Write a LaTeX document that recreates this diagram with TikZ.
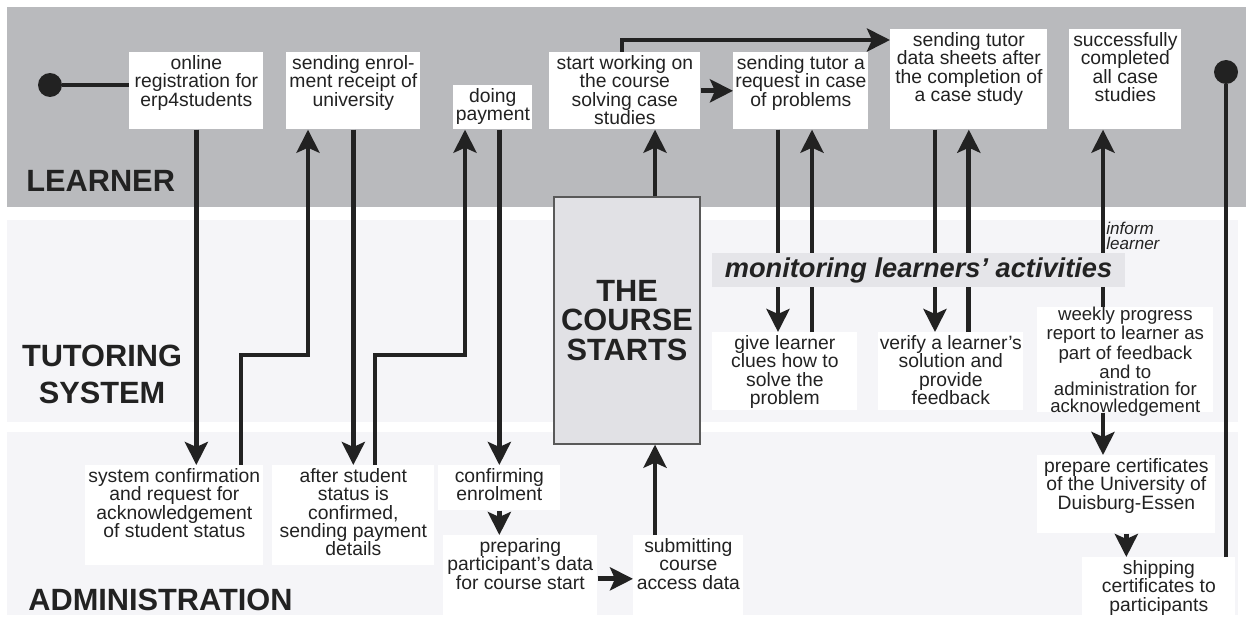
\documentclass[tikz,border=0pt]{standalone}
\usepackage{fontspec}
\setmainfont{Liberation Sans}
\usetikzlibrary{arrows.meta}

\definecolor{learnergray}{RGB}{185,186,189}
\definecolor{lanegray}{RGB}{245,245,248}
\definecolor{coursegray}{RGB}{225,225,229}
\definecolor{bandgray}{RGB}{229,229,233}
\definecolor{ink}{RGB}{34,34,34}

% text set at the top of a fixed white box
\newcommand{\boxtext}[4][2pt]{\parbox[t][#3][t]{#2}{\centering\vspace*{#1}#4}}

\tikzset{
	task/.style={fill=white, inner sep=0pt, anchor=north west, text=ink, font=\fontsize{11}{10.3}\selectfont},
	lanelabel/.style={inner sep=0pt, text=ink, align=center, font=\fontsize{17.5}{21}\selectfont\bfseries},
	dot/.style={circle, fill=ink, inner sep=0pt, minimum size=0.48cm},
	link/.style={line width=2.7pt, draw=ink},
	flow/.style={link, -{Stealth[length=0.46cm, width=0.46cm, inset=0.1cm]}}
}

\begin{document}
\begin{tikzpicture}[x=0.02cm, y=-0.02cm]
		\useasboundingbox (0,0) rectangle (1246,628);
		\fill[white] (0,0) rectangle (1246,628);
		
		% swim lanes
		\fill[learnergray] (7,7) rectangle (1246,207);
		\fill[lanegray] (7,220) rectangle (1238,422);
		\fill[lanegray] (7,432) rectangle (1238,615);
		
		\node (learner) at (26,181) [lanelabel, anchor=west] {LEARNER};
		\node (tutoring) at (102,374) [lanelabel] {TUTORING\\SYSTEM};
		\node (admin) at (28,600) [lanelabel, anchor=west] {ADMINISTRATION};
		
		% learner
		\node (start) at (50,85) [dot] {};
		\node (stop) at (1226,72) [dot] {};
		\node (reg) at (129,52) [task] {\boxtext{2.68cm}{1.54cm}{online\\registration for\\erp4students}};
		\node (enrol) at (286,52) [task] {\boxtext{2.68cm}{1.54cm}{sending enrol-\\ment receipt of\\university}};
		\node (pay) at (453,85) [task] {\boxtext{1.58cm}{0.88cm}{doing\\payment}};
		\node (work) at (549,52) [task] {\boxtext{3.02cm}{1.54cm}{start working on\\the course\\solving case\\studies}};
		\node (req) at (733,52) [task] {\boxtext{2.70cm}{1.54cm}{sending tutor a\\request in case\\of problems}};
		\node (sheets) at (890,29) [task] {\boxtext{3.14cm}{2.0cm}{sending tutor\\data sheets after\\the completion of\\a case study}};
		\node (done) at (1069,29) [task] {\boxtext{2.24cm}{2.0cm}{successfully\\completed\\all case\\studies}};
		
		% tutoring system
		\node (give) at (712,332) [task] {\boxtext{2.9cm}{1.56cm}{give learner\\clues how to\\solve the\\problem}};
		\node (verify) at (878,332) [task] {\boxtext{2.9cm}{1.56cm}{verify a learner’s\\solution and\\provide\\feedback}};
		\node (weekly) at (1037,307) [task, font=\fontsize{10.6}{9.8}\selectfont] {\boxtext[0pt]{3.52cm}{2.1cm}{weekly progress\\report to learner as\\part of feedback\\and to\\administration for\\acknowledgement}};
		
		% administration
		\node (sysconf) at (85,465) [task] {\boxtext{3.56cm}{2.0cm}{system confirmation\\and request for\\acknowledgement\\of student status}};
		\node (after) at (272,465) [task] {\boxtext{3.24cm}{2.0cm}{after student\\status is\\confirmed,\\sending payment\\details}};
		\node (confirm) at (438,465) [task] {\boxtext{2.44cm}{0.9cm}{confirming\\enrolment}};
		\node (prep) at (443,535) [task] {\boxtext{3.08cm}{1.74cm}{preparing\\participant’s data\\for course start}};
		\node (submit) at (633,535) [task] {\boxtext{2.2cm}{1.74cm}{submitting\\course\\access data}};
		\node (cert) at (1037,455) [task] {\boxtext{3.56cm}{1.56cm}{prepare certificates\\of the University of\\Duisburg-Essen}};
		\node (ship) at (1082,557) [task] {\boxtext{3.06cm}{1.26cm}{shipping\\certificates to\\participants}};
		
		\node (course) at (627,320.5) [draw=black!65, line width=0.8pt, fill=coursegray, minimum width=2.92cm, minimum height=4.94cm, inner sep=0pt, align=center, text=ink, font=\fontsize{17.5}{17}\selectfont\bfseries] {THE\\COURSE\\STARTS};
		
		% bends and columns of the connectors
		\coordinate (k1) at (241,355);
		\coordinate (k2) at (308,355);
		\coordinate (k3) at (375,355);
		\coordinate (k4) at (465,355);
		\coordinate (k5) at (655,320);
		\coordinate (k6) at (778,270);
		\coordinate (k7) at (812,270);
		\coordinate (k8) at (935,270);
		\coordinate (k9) at (1103,270);
		\coordinate (k10) at (622,40);
		
		\draw [link] (start) -- (start -| reg.west);
		\draw [flow] (reg.south) -- (reg.south |- sysconf.north);
		\draw [flow] (sysconf.north -| k1) |- (k2) -- (enrol.south -| k2);
		\draw [flow] (enrol.south) -- (enrol.south |- after.north);
		\draw [flow] (after.north -| k3) |- (k4) -- (pay.south -| k4);
		\draw [flow] (pay.south -| confirm.north) -- (confirm.north);
		\draw [flow] (confirm.south) -- (confirm.south |- prep.north);
		\draw [flow] (prep.east) -- (submit.west);
		\draw [flow] (submit.north -| k5) -- (course.south -| k5);
		\draw [flow] (course.north -| k5) -- (work.south -| k5);
		\draw [flow] (work.east) -- (req.west);
		\draw [flow] (work.north -| k10) |- (sheets.west |- k10);
		\draw [flow] (req.south -| k6) -- (give.north -| k6);
		\draw [flow] (give.north -| k7) -- (req.south -| k7);
		\draw [flow] (sheets.south -| k8) -- (verify.north -| k8);
		\draw [flow] (verify.north -| sheets.south) -- (sheets.south);
		\draw [flow] (weekly.north -| k9) -- (done.south -| k9);
		\draw [flow] (weekly.south -| k9) -- (cert.north -| k9);
		\draw [flow] (cert.south) -- (cert.south |- ship.north);
		\draw [link] (ship.north -| stop) -- (stop);
		
		\node (monitor) at (918.5,270) [fill=bandgray, minimum width=8.26cm, minimum height=0.68cm, inner sep=0pt, text=ink, font=\fontsize{15.5}{16}\selectfont\bfseries\itshape] {monitoring learners’ activities};
		\node (inform) at (1106,235.5) [anchor=west, inner sep=0pt, align=left, text=ink, font=\fontsize{9.7}{8.6}\selectfont\itshape] {inform\\learner};
\end{tikzpicture}
\end{document}
